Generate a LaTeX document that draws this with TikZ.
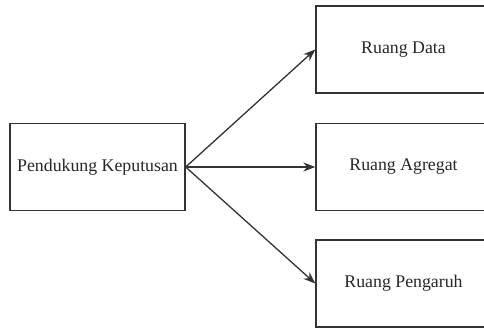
\documentclass[tikz,border=0pt]{standalone}
\usepackage{fontspec}
\setmainfont{Liberation Serif}
\usetikzlibrary{arrows.meta}
\tikzset{
	kotak/.style={draw=black!80, line width=1.4pt, minimum width=175pt, minimum height=87pt, inner sep=0pt, font=\fontsize{17.8}{20}\selectfont, text=black!85},
	panah/.style={draw=black!80, line width=1.3pt, -{Stealth[length=12pt,width=9pt]}}
}
\begin{document}
\begin{tikzpicture}[x=1pt, y=-1pt]
	\clip (0,0) rectangle (484,328);
	% kotak kiri
	\node[kotak] (keputusan) at (97.5,167) {Pendukung Keputusan};
	% kotak kanan (terpotong di tepi kanan)
	\node[kotak] (data) at (403.5,49.5) {Ruang Data};
	\node[kotak] (agregat) at (403.5,167) {Ruang Agregat};
	\node[kotak] (pengaruh) at (403.5,283.5) {Ruang Pengaruh};
	% panah
	\draw[panah] (keputusan.east) -- (data.west);
	\draw[panah] (keputusan.east) -- (agregat.west);
	\draw[panah] (keputusan.east) -- (pengaruh.west);
\end{tikzpicture}
\end{document}
